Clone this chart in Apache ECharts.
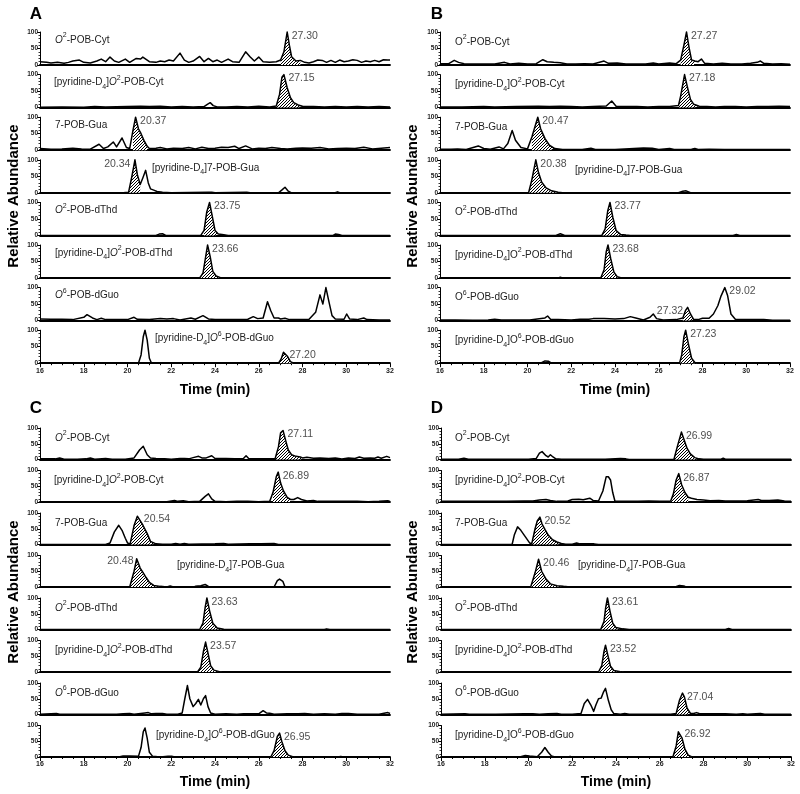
<!DOCTYPE html>
<html><head><meta charset="utf-8">
<script src="https://cdn.jsdelivr.net/npm/echarts@6/dist/echarts.min.js"></script>
<style>html,body{margin:0;padding:0;background:#fff}#c{width:800px;height:794px}</style>
</head><body><div id="c"></div>
<script>
// ---------------- DATA ----------------
const xTicks = [16, 32, 2];          // min, max, step (min)
const yTicks = [0, 100, 50];         // min, max, step (relative abundance)
const panelIds = ['A', 'B', 'C', 'D'];
const rowNames = ['O^2-POB-Cyt', '[pyridine-D_4]O^2-POB-Cyt', '7-POB-Gua', '[pyridine-D_4]7-POB-Gua',
  'O^2-POB-dThd', '[pyridine-D_4]O^2-POB-dThd', 'O^6-POB-dGuo', '[pyridine-D_4]O^6-POB-dGuo'];

// Panel A traces [time, relative abundance]
const A1 = [[16,10],[16.3,8],[16.5,6],[16.8,8],[17.1,5],[17.3,8],[17.5,12],[17.8,15],[18.0,8],[18.3,6],[18.6,12],[18.8,18],[19.0,10],[19.2,24],[19.4,12],[19.6,8],[19.9,18],[20.1,8],[20.4,20],[20.6,18],[20.7,24],[21.0,10],[21.3,8],[21.5,12],[21.7,10],[21.9,15],[22.1,12],[22.4,36],[22.6,15],[22.8,8],[23.0,12],[23.3,26],[23.5,10],[23.7,20],[23.9,10],[24.1,15],[24.3,8],[24.6,18],[24.8,10],[25.1,8],[25.4,40],[25.6,25],[25.8,12],[26.0,24],[26.2,10],[26.5,8],[26.8,10],[27.0,15],[27.15,40],[27.3,100],[27.4,60],[27.5,25],[27.7,12],[27.9,14],[28.1,8],[28.3,6],[28.5,10],[28.7,15],[28.9,14],[29.1,8],[29.3,14],[29.5,8],[29.7,15],[29.9,10],[30.1,12],[30.3,16],[30.5,14],[30.7,8],[30.9,12],[31.1,10],[31.3,14],[31.5,10],[31.7,16],[31.9,15],[32,15]];
const A2 = [[16,1],[17,2],[18,1],[18.5,3],[19,2],[20,3],[20.6,4],[21,3],[21.5,4],[22,2],[22.5,3],[23,2],[23.5,3],[23.65,10],[23.78,15],[23.92,6],[24.1,2],[24.5,2],[25,3],[25.5,2],[26,4],[26.5,2],[26.8,5],[26.95,40],[27.06,92],[27.15,100],[27.3,60],[27.45,30],[27.6,15],[27.8,8],[28,4],[28.5,3],[29,2],[29.5,3],[30,2],[30.5,3],[31,2],[31.5,3],[32,2]];
const A3 = [[16,5],[16.5,3],[17,4],[17.5,6],[17.9,4],[18.3,3],[18.7,18],[18.9,5],[19.1,10],[19.35,25],[19.5,10],[19.75,37],[19.95,8],[20.1,5],[20.25,60],[20.37,100],[20.5,65],[20.62,50],[20.75,30],[20.9,12],[21.0,5],[21.3,6],[21.5,8],[21.8,4],[22.1,6],[22.5,5],[22.8,8],[23.1,4],[23.4,9],[23.7,5],[24.0,6],[24.3,9],[24.6,8],[24.9,12],[25.1,5],[25.4,13],[25.7,4],[26.0,6],[26.3,5],[26.6,8],[27.0,5],[27.3,4],[27.7,6],[28.0,7],[28.4,6],[28.8,8],[29.2,4],[29.6,5],[30.0,6],[30.4,5],[30.8,9],[31.2,4],[31.6,6],[32,8]];
const A4 = [[16,0],[19.8,0],[20.05,2],[20.2,50],[20.34,100],[20.45,55],[20.58,25],[20.7,45],[20.83,68],[20.95,30],[21.05,12],[21.2,8],[21.35,4],[21.6,2],[22,0],[23.7,2],[23.85,2],[24,0],[25.45,2],[25.6,0],[26.9,0],[27.05,8],[27.2,17],[27.35,5],[27.5,0],[29.5,0],[29.6,3],[29.7,0],[32,0]];
const A5 = [[16,0],[21.3,0],[21.45,4],[21.6,5],[21.75,0],[23.35,0],[23.5,15],[23.62,70],[23.75,100],[23.87,60],[24.0,15],[24.15,4],[24.4,2],[24.6,0],[29.4,0],[29.5,4],[29.65,3],[29.8,0],[32,0]];
const A6 = [[16,0],[23.3,0],[23.45,15],[23.55,55],[23.66,100],[23.78,65],[23.9,20],[24.05,6],[24.25,1],[24.4,0],[32,0]];
const A7 = [[16,5],[16.5,4],[17,4],[17.5,3],[18.0,10],[18.15,18],[18.4,8],[18.6,3],[18.8,7],[19.0,3],[19.5,3],[20.0,3],[20.3,10],[20.45,4],[21.0,3],[21.5,6],[21.8,5],[22.1,6],[22.4,2],[22.9,8],[23.1,4],[23.45,15],[23.7,5],[24.0,3],[24.5,3],[25.0,3],[25.5,4],[25.75,12],[25.95,6],[26.2,8],[26.4,57],[26.55,30],[26.7,8],[26.9,8],[27.0,5],[27.2,7],[27.4,3],[27.8,3],[28.3,4],[28.6,25],[28.8,78],[28.93,50],[29.07,100],[29.2,60],[29.35,15],[29.5,5],[29.9,4],[30.02,20],[30.15,5],[30.5,3],[30.8,8],[30.95,3],[31.5,2],[32,2]];
const A8 = [[16,0],[20.5,0],[20.62,25],[20.72,80],[20.8,100],[20.9,70],[21.0,15],[21.1,0],[26.9,0],[27.02,12],[27.13,33],[27.2,36],[27.32,20],[27.45,5],[27.6,0],[32,0]];

// Panel B traces
const B1 = [[16,4],[16.4,4],[16.65,14],[16.85,8],[17.1,4],[17.5,3],[18,3],[18.5,3],[18.95,8],[19.2,3],[19.6,5],[20.0,3],[20.4,4],[20.7,16],[20.9,10],[21.2,8],[21.5,7],[21.8,3],[22.2,3],[22.6,4],[23.0,3],[23.5,12],[23.7,5],[24.1,6],[24.5,3],[25.0,3],[25.4,3],[25.75,6],[26.0,3],[26.5,6],[26.8,4],[27.0,15],[27.15,60],[27.27,100],[27.38,55],[27.5,15],[27.65,12],[27.8,10],[27.95,18],[28.1,5],[28.5,3],[28.9,5],[29.3,3],[29.8,3],[30.2,5],[30.5,8],[30.65,12],[30.8,5],[31.2,3],[31.6,4],[32,2]];
const B2 = [[16,2],[17,2],[18,3],[18.5,2],[19.5,3],[20.5,4],[21.0,3],[21.5,4],[22.0,3],[22.5,2],[23.0,3],[23.6,5],[23.85,20],[24.05,4],[24.5,3],[25,3],[25.5,2],[26,3],[26.5,3],[26.9,6],[27.0,35],[27.18,100],[27.3,65],[27.45,25],[27.6,10],[27.85,4],[28.2,3],[28.6,2],[29,3],[29.5,3],[30,2],[30.5,3],[31,3],[31.5,4],[32,3]];
const B3 = [[16,3],[16.5,3],[16.8,4],[17.2,2],[17.75,13],[18.0,5],[18.3,3],[18.7,10],[18.9,4],[19.1,20],[19.3,60],[19.45,30],[19.7,8],[20.0,4],[20.2,40],[20.47,100],[20.6,65],[20.8,35],[21.0,15],[21.25,5],[21.6,2],[22.5,2],[22.9,6],[23.1,2],[24,2],[25.3,7],[25.7,6],[26.0,2],[26.5,5],[26.7,2],[27.5,3],[27.65,5],[27.8,2],[28.3,3],[29,2],[30,2],[32,2]];
const B4 = [[16,0],[20.05,0],[20.2,40],[20.38,100],[20.5,62],[20.65,32],[20.85,15],[21.1,6],[21.4,2],[21.6,0],[26.9,0],[27.1,5],[27.25,6],[27.45,0],[32,0]];
const B5 = [[16,0],[21.3,0],[21.5,5],[21.7,0],[23.4,0],[23.55,20],[23.67,75],[23.77,100],[23.9,55],[24.05,15],[24.25,3],[24.5,1],[24.7,0],[29.4,0],[29.55,3],[29.7,0],[32,0]];
const B6 = [[16,0],[21.4,0],[21.5,2],[21.6,0],[23.35,0],[23.5,25],[23.6,80],[23.68,100],[23.8,60],[23.95,18],[24.1,4],[24.3,0],[32,0]];
const B7 = [[16,2],[16.7,2],[17.5,1],[18.2,2],[18.5,4],[18.8,2],[19.5,2],[20.1,2],[20.8,8],[20.92,14],[21.05,4],[21.4,3],[22.0,2],[22.4,4],[22.8,4],[23.0,6],[23.5,6],[24.0,5],[24.4,6],[24.7,12],[24.95,8],[25.3,2],[25.6,10],[25.75,20],[25.9,6],[26.2,2],[26.8,3],[27.1,8],[27.22,30],[27.32,40],[27.45,20],[27.6,3],[27.8,3],[28.0,7],[28.3,7],[28.5,20],[28.7,45],[28.85,75],[29.02,100],[29.15,75],[29.3,20],[29.5,4],[29.9,3],[30.3,3],[30.8,3],[31.2,1],[32,1]];
const B8 = [[16,0],[20.6,0],[20.8,7],[20.95,6],[21.1,0],[26.95,0],[27.05,25],[27.15,80],[27.23,100],[27.35,60],[27.5,15],[27.65,2],[27.8,0],[32,0]];

// Panel C traces
const C1 = [[16,2],[16.7,2],[16.9,5],[17.1,1],[17.7,1],[18.1,2],[18.3,5],[18.5,1],[19.0,3],[19.3,1],[19.9,1],[20.3,5],[20.55,30],[20.72,42],[20.9,15],[21.05,5],[21.3,3],[21.7,2],[22.0,1],[22.4,3],[22.6,3],[22.8,2],[23.0,6],[23.25,10],[23.4,5],[23.6,5],[23.85,12],[24.0,3],[24.5,3],[24.9,2],[25.3,3],[25.42,12],[25.55,2],[26.0,2],[26.5,2],[26.75,3],[26.9,40],[27.0,85],[27.11,92],[27.25,55],[27.35,30],[27.5,15],[27.7,10],[27.9,8],[28.0,5],[28.2,7],[28.5,4],[28.8,5],[29.2,3],[29.5,5],[29.8,2],[30.1,5],[30.4,3],[30.6,8],[30.8,4],[31.1,5],[31.3,4],[31.45,8],[31.6,4],[31.85,10],[32,6]];
const C2 = [[16,1],[17,1],[18,1],[19,1],[20,1],[21,1],[21.8,1],[22.15,5],[22.3,2],[22.55,4],[22.8,1],[23.3,2],[23.55,18],[23.7,26],[23.85,10],[24.0,2],[24.5,1],[25,2],[25.5,2],[26,1],[26.5,2],[26.65,30],[26.8,80],[26.89,95],[27.0,60],[27.13,35],[27.3,15],[27.45,8],[27.6,8],[27.78,14],[27.95,8],[28.2,3],[28.5,5],[28.7,2],[29.2,2],[29.8,2],[30.5,2],[31.0,1],[31.5,2],[31.9,4],[32,2]];
const C3 = [[16,0],[19.0,0],[19.2,5],[19.4,40],[19.6,61],[19.75,45],[19.9,20],[20.0,5],[20.12,2],[20.3,60],[20.45,90],[20.54,92],[20.7,62],[20.9,35],[21.05,10],[21.3,2],[21.6,1],[22.0,1],[22.2,3],[22.4,1],[22.6,3],[22.8,1],[24.0,2],[24.4,3],[24.6,1],[25.6,2],[26.1,2],[26.7,3],[26.9,0],[32,0]];
const C4 = [[16,0],[20.1,0],[20.3,50],[20.42,90],[20.48,95],[20.58,60],[20.72,45],[20.85,30],[21.0,15],[21.2,5],[21.5,2],[21.8,0],[21.95,3],[22.1,0],[23.0,0],[23.1,2],[23.35,4],[23.55,8],[23.7,2],[23.9,0],[26.7,0],[26.85,20],[26.95,25],[27.1,18],[27.2,0],[32,0]];
const C5 = [[16,0],[23.3,0],[23.45,20],[23.55,70],[23.63,100],[23.75,60],[23.9,20],[24.1,5],[24.4,1],[24.6,0],[29.0,0],[29.1,2],[29.25,0],[32,0]];
const C6 = [[16,0],[23.2,0],[23.35,15],[23.47,65],[23.57,95],[23.68,60],[23.8,20],[23.95,6],[24.2,1],[24.4,0],[32,0]];
const C7 = [[16,1],[16.75,3],[16.9,1],[18,1],[19.5,1],[19.8,2],[20.1,3],[20.3,1],[20.8,5],[20.95,6],[21.1,2],[21.3,3],[21.6,3],[21.8,1],[22.3,1],[22.5,5],[22.62,50],[22.74,92],[22.85,50],[23.0,25],[23.12,35],[23.24,48],[23.35,30],[23.47,50],[23.57,60],[23.68,25],[23.8,5],[24.0,1],[24.5,2],[25.0,1],[25.3,2],[26.0,2],[26.2,12],[26.35,5],[26.5,4],[26.7,1],[27.3,2],[27.8,2],[28.1,3],[28.5,1],[29.0,2],[29.5,1],[29.8,3],[30.1,3],[30.5,1],[31.0,1],[31.5,1],[31.9,6],[32,3]];
const C8 = [[16,0],[19.6,0],[19.8,3],[20.1,3],[20.5,2],[20.62,30],[20.72,80],[20.8,92],[20.9,60],[21.0,15],[21.15,2],[21.5,0],[21.85,2],[22.05,2],[22.2,0],[26.55,0],[26.7,20],[26.85,65],[26.95,76],[27.05,50],[27.2,20],[27.35,6],[27.55,1],[27.7,0],[29.6,0],[29.75,2],[29.9,0],[32,0]];

// Panel D traces
const D1 = [[16,1],[16.8,1],[17.05,4],[17.25,1],[18,1],[19,1],[20.0,1],[20.35,3],[20.5,20],[20.62,25],[20.8,12],[20.9,8],[21.0,15],[21.12,8],[21.25,2],[21.5,1],[22.5,1],[23.5,1],[24.2,3],[24.45,2],[24.6,0],[26.65,1],[26.8,40],[26.99,87],[27.1,65],[27.25,35],[27.4,18],[27.6,6],[27.8,2],[28.0,1],[28.8,1],[28.9,4],[29.0,1],[32,1]];
const D2 = [[16,2],[17,2],[18,2],[19,2],[19.8,3],[20.2,3],[20.5,6],[20.8,8],[21.0,5],[21.3,2],[21.8,3],[22.0,8],[22.3,9],[22.5,7],[22.8,12],[22.95,5],[23.2,3],[23.4,35],[23.55,80],[23.65,80],[23.75,70],[23.85,30],[23.95,3],[24.5,2],[25,2],[25.5,3],[26.0,2],[26.5,3],[26.62,25],[26.75,70],[26.87,90],[27.0,55],[27.15,30],[27.3,15],[27.45,12],[27.7,8],[28.0,6],[28.3,4],[28.7,5],[29.0,3],[29.5,3],[30.0,4],[30.5,8],[30.65,5],[31.0,5],[31.4,6],[31.7,3],[32,2]];
const D3 = [[16,0],[19.25,0],[19.35,30],[19.5,56],[19.65,45],[19.85,25],[20.05,5],[20.15,3],[20.3,50],[20.4,75],[20.52,87],[20.62,65],[20.75,48],[20.9,30],[21.1,15],[21.3,8],[21.5,3],[21.7,1],[22.0,1],[22.2,5],[22.35,2],[22.6,2],[23.0,2],[23.2,0],[32,0]];
const D4 = [[16,0],[20.1,0],[20.3,45],[20.46,88],[20.6,50],[20.8,25],[21.0,10],[21.3,4],[21.6,2],[21.8,1],[22.5,1],[22.7,0],[23.5,1],[23.8,0],[26.7,0],[26.9,5],[27.1,3],[27.2,0],[32,0]];
const D5 = [[16,0],[23.3,0],[23.45,25],[23.53,70],[23.61,100],[23.72,60],[23.85,20],[24.0,6],[24.3,2],[24.6,0],[29.0,0],[29.15,3],[29.3,0],[32,0]];
const D6 = [[16,0],[23.2,0],[23.35,20],[23.45,65],[23.52,85],[23.62,55],[23.75,18],[23.9,5],[24.2,1],[24.4,0],[32,0]];
const D7 = [[16,1],[17.1,2],[17.3,1],[18.5,1],[19.8,2],[20.2,2],[20.5,1],[20.9,2],[21.3,3],[21.5,1],[22.0,1],[22.4,3],[22.55,35],[22.7,48],[22.85,30],[22.98,10],[23.08,30],[23.2,50],[23.32,52],[23.42,70],[23.52,83],[23.65,45],[23.78,15],[23.9,3],[24.2,1],[24.4,3],[24.6,1],[25.2,1],[26.5,1],[26.75,3],[26.9,45],[27.04,68],[27.13,55],[27.25,20],[27.4,4],[27.55,3],[27.68,6],[27.8,3],[28.0,2],[28.5,2],[29.0,2],[29.5,1],[29.8,2],[30.0,1],[30.6,3],[30.8,1],[32,1]];
const D8 = [[16,0],[19.6,0],[19.85,5],[20.05,3],[20.4,1],[20.6,15],[20.75,30],[20.9,15],[21.05,3],[21.2,0],[21.8,0],[21.9,2],[22.0,0],[26.6,0],[26.75,35],[26.85,80],[26.92,85],[27.02,60],[27.15,25],[27.3,6],[27.45,1],[27.6,0],[32,0]];

// Integrated (hatched) retention windows [start, end] per row (null = none)
const hatchA = [[26.97,28.0],[26.8,28.0],[20.15,20.95],[20.04,20.6],[23.4,24.2],[23.3,24.3],null,[26.9,27.6]];
const hatchB = [[26.95,27.7],[26.9,27.9],[20.05,21.3],[20.05,21.6],[23.4,24.5],[23.35,24.3],[27.05,27.6],[26.95,27.8]];
const hatchC = [[26.75,28.0],[26.55,27.45],[20.12,21.3],[20.1,21.5],[23.3,24.5],[23.2,24.4],null,[26.55,27.7]];
const hatchD = [[26.65,27.85],[26.5,27.4],[20.15,21.6],[20.1,21.7],[23.3,24.5],[23.2,24.4],[26.75,27.45],[26.6,27.6]];

// Labeled retention times per row
const peaksA = [[27.30],[27.15],[20.37],[20.34],[23.75],[23.66],[],[27.20]];
const peaksB = [[27.27],[27.18],[20.47],[20.38],[23.77],[23.68],[27.32, 29.02],[27.23]];
const peaksC = [[27.11],[26.89],[20.54],[20.48],[23.63],[23.57],[],[26.95]];
const peaksD = [[26.99],[26.87],[20.52],[20.46],[23.61],[23.52],[27.04],[26.92]];

// ---------------- LAYOUT / STYLE ----------------
const FONT = '"Liberation Sans", Arial, Helvetica, sans-serif';
const PW = 350;
const layout = {
  A: {left: 40,  top: 32,  step: 42.6, h: 33,   nameDy: 8,    letter: [36, 14],  ylab: [14, 196],  xlab: [215, 390], italic: true},
  B: {left: 440, top: 32,  step: 42.6, h: 33,   nameDy: 10,   letter: [437, 14], ylab: [413, 196], xlab: [615, 390], italic: false},
  C: {left: 40,  top: 428, step: 42.5, h: 31.5, nameDy: 10,   letter: [36, 408], ylab: [14, 592],  xlab: [215, 782], italic: true},
  D: {left: 441, top: 428, step: 42.5, h: 31.5, nameDy: 10,   letter: [437, 408],ylab: [413, 592], xlab: [616, 782], italic: false}
};
// name x-offsets from plot left (special placements for rows 4 and 8)
const nameDx = {A: [15,14,15,112,15,15,15,115], B: [15,15,15,135,15,15,15,15], C: [15,14,15,137,15,15,15,116], D: [14,14,14,137,14,14,14,14]};
// label side for peaks ('l' = left of apex)
const sides = {A: [['r'],['r'],['r'],['l'],['r'],['r'],[],['r']], B: [['r'],['r'],['r'],['r'],['r'],['r'],['l','r'],['r']],
               C: [['r'],['r'],['r'],['l'],['r'],['r'],[],['r']], D: [['r'],['r'],['r'],['r'],['r'],['r'],['r'],['r']]};

const traces = {A:[A1,A2,A3,A4,A5,A6,A7,A8], B:[B1,B2,B3,B4,B5,B6,B7,B8], C:[C1,C2,C3,C4,C5,C6,C7,C8], D:[D1,D2,D3,D4,D5,D6,D7,D8]};
const hatches = {A:hatchA, B:hatchB, C:hatchC, D:hatchD};
const peaks = {A:peaksA, B:peaksB, C:peaksC, D:peaksD};

function makeHatch() {
  const c = document.createElement('canvas');
  c.width = 3; c.height = 3;
  const g = c.getContext('2d');
  g.fillStyle = '#fff'; g.fillRect(0, 0, 3, 3);
  g.strokeStyle = '#000'; g.lineWidth = 1;
  g.beginPath();
  g.moveTo(0, 3); g.lineTo(3, 0);
  g.moveTo(-1, 1); g.lineTo(1, -1);
  g.moveTo(2, 4); g.lineTo(4, 2);
  g.stroke();
  return c;
}
const hatchImg = makeHatch();

function valueAt(tr, t) {
  let best = tr[0];
  tr.forEach(d => { if (Math.abs(d[0] - t) < Math.abs(best[0] - t)) best = d; });
  return best[1];
}
function richName(s, ital) {
  let out = '', buf = '';
  const flush = () => { if (buf) { out += '{n|' + buf + '}'; buf = ''; } };
  for (let i = 0; i < s.length; i++) {
    const ch = s[i];
    if (ch === '^' || ch === '_') { flush(); out += '{' + (ch === '^' ? 'sup' : 'sub') + '|' + s[i + 1] + '}'; i++; }
    else if (ch === 'O' && s[i + 1] === '^' && ital) { flush(); out += '{it|O}'; }
    else buf += ch;
  }
  flush();
  return out;
}
const richStyles = {
  n:   {fontSize: 10, fontFamily: FONT, fill: '#222', lineHeight: 16, verticalAlign: 'middle'},
  it:  {fontSize: 10, fontFamily: FONT, fill: '#222', lineHeight: 16, verticalAlign: 'middle', fontStyle: 'italic'},
  sup: {fontSize: 7, fontFamily: FONT, fill: '#222', verticalAlign: 'top'},
  sub: {fontSize: 7, fontFamily: FONT, fill: '#222', verticalAlign: 'bottom'}
};

const grids = [], xAxes = [], yAxes = [], series = [], graphics = [];
let gi = 0;
panelIds.forEach(pid => {
  const L = layout[pid];
  traces[pid].forEach((tr, r) => {
    const top = L.top + r * L.step;
    const bottom = r === 7;
    grids.push({left: L.left, top: top, width: PW, height: L.h});
    xAxes.push({
      type: 'value', gridIndex: gi, min: xTicks[0], max: xTicks[1], interval: xTicks[2],
      axisLine: {show: true, onZero: false, lineStyle: {color: '#000', width: 1.8}},
      axisTick: {show: bottom, length: 4, lineStyle: {color: '#000', width: 1}},
      minorTick: {show: bottom, splitNumber: 4, length: 2, lineStyle: {color: '#000', width: 1}},
      axisLabel: {show: bottom, fontSize: 7, fontWeight: 'bold', color: '#222', margin: 4, fontFamily: FONT},
      splitLine: {show: false}, minorSplitLine: {show: false}
    });
    yAxes.push({
      type: 'value', gridIndex: gi, min: yTicks[0], max: yTicks[1], interval: yTicks[2],
      axisLine: {show: true, lineStyle: {color: '#000', width: 1}},
      axisTick: {show: true, length: 3, lineStyle: {color: '#000', width: 1}},
      minorTick: {show: true, splitNumber: 5, length: 1.5, lineStyle: {color: '#000', width: 0.8}},
      axisLabel: {fontSize: 6.5, fontWeight: 'bold', color: '#222', margin: 2, fontFamily: FONT},
      splitLine: {show: false}
    });
    const h = hatches[pid][r];
    if (h) {
      series.push({
        type: 'line', xAxisIndex: gi, yAxisIndex: gi, data: tr.filter(d => d[0] >= h[0] && d[0] <= h[1]),
        symbol: 'none', showSymbol: false, clip: false, silent: true, z: 2, animation: false,
        lineStyle: {opacity: 0, width: 0},
        areaStyle: {color: {image: hatchImg, repeat: 'repeat'}, opacity: 1}
      });
    }
    series.push({
      type: 'line', xAxisIndex: gi, yAxisIndex: gi, data: tr, symbol: 'none', showSymbol: false,
      clip: false, silent: true, z: 3, animation: false,
      lineStyle: {color: '#000', width: 1.5, join: 'round'}
    });
    const pk = peaks[pid][r];
    if (pk.length) {
      series.push({
        type: 'scatter', xAxisIndex: gi, yAxisIndex: gi, symbolSize: 1, silent: true, z: 4, animation: false,
        itemStyle: {color: 'rgba(0,0,0,0)'},
        data: pk.map((t, k) => ({
          value: [t, valueAt(tr, t)],
          label: {show: true, position: sides[pid][r][k] === 'l' ? 'left' : 'right', distance: 4, offset: [0, 4],
                  formatter: t.toFixed(2), fontSize: 10.5, color: '#222', fontFamily: FONT}
        }))
      });
    }
    graphics.push({
      type: 'text', x: L.left + nameDx[pid][r], y: top + L.nameDy, silent: true, z: 10,
      style: {text: richName(rowNames[r], L.italic), rich: richStyles, textAlign: 'left', textVerticalAlign: 'middle',
              fontSize: 10, fontFamily: FONT, fill: '#222'}
    });
    gi++;
  });
  graphics.push({type: 'text', x: L.letter[0], y: L.letter[1], silent: true,
    style: {text: pid, font: 'bold 17px ' + FONT, fill: '#000', textAlign: 'center', textVerticalAlign: 'middle'}});
  graphics.push({type: 'text', x: L.ylab[0], y: L.ylab[1], rotation: Math.PI / 2, silent: true,
    style: {text: 'Relative Abundance', font: 'bold 15px ' + FONT, fill: '#000', textAlign: 'center', textVerticalAlign: 'middle'}});
  graphics.push({type: 'text', x: L.xlab[0], y: L.xlab[1], silent: true,
    style: {text: 'Time (min)', font: 'bold 14px ' + FONT, fill: '#000', textAlign: 'center', textVerticalAlign: 'middle'}});
});

const chart = echarts.init(document.getElementById('c'), null, {renderer: 'canvas'});
chart.setOption({
  animation: false,
  backgroundColor: '#fff',
  grid: grids, xAxis: xAxes, yAxis: yAxes, series: series,
  graphic: {elements: graphics}
});
</script></body></html>
